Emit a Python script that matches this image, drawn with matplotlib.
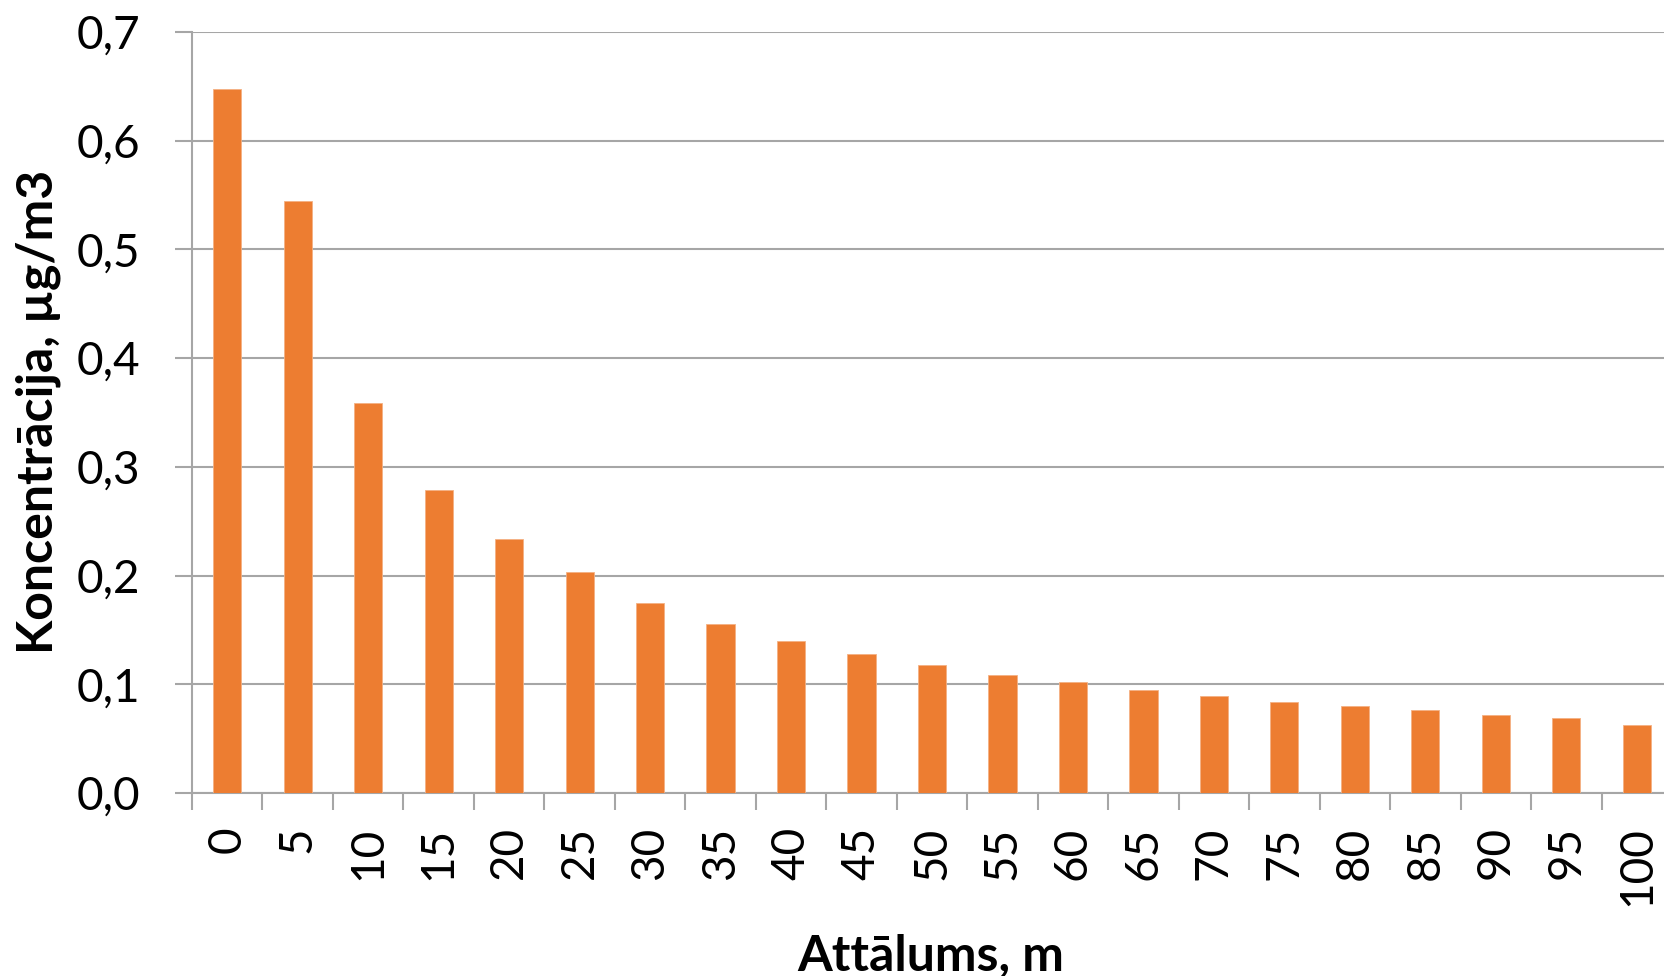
import numpy as np
import matplotlib
matplotlib.use("Agg")
import matplotlib.pyplot as plt
from matplotlib.ticker import FuncFormatter

# data
distances = ["0", "5", "10", "15", "20", "25", "30", "35", "40", "45", "50",
             "55", "60", "65", "70", "75", "80", "85", "90", "95", "100"]
concentration = [0.648, 0.545, 0.359, 0.279, 0.234, 0.203, 0.175, 0.155, 0.140,
                 0.128, 0.118, 0.109, 0.102, 0.095, 0.089, 0.084, 0.080, 0.076,
                 0.072, 0.069, 0.063]

plt.rcParams['font.family'] = ['Lato', 'DejaVu Sans']
grey = "#A6A6A6"

W, H = 1664, 976
fig = plt.figure(figsize=(W / 100, H / 100), dpi=100)
# axes in pixel terms: left 192, right 1672 (goes past the picture edge), top 32, bottom 793
left, right, top, bottom = 192, 1672, 32, 793
ax = fig.add_axes([left / W, (H - bottom) / H, (right - left) / W, (bottom - top) / H])

x = np.arange(len(distances))
ax.bar(x, concentration, width=0.4, color="#ED7D31", edgecolor="#F4B183", linewidth=0.6, zorder=3)

ax.set_xlim(-0.5, len(distances) - 0.5)
ax.set_ylim(0, 0.7)
ax.set_yticks(np.arange(0, 0.71, 0.1))
ax.yaxis.set_major_formatter(FuncFormatter(lambda v, p: f"{v:.1f}".replace(".", ",")))
ax.grid(axis="y", color=grey, linewidth=1.5, zorder=0)

# category labels in the middle, tick marks between the bars
ax.set_xticks(x)
ax.set_xticklabels(distances, rotation=90)
ax.set_xticks(np.arange(-0.5, len(distances)), minor=True)
ax.tick_params(axis="x", which="major", length=0, pad=24, labelsize=33)
ax.tick_params(axis="x", which="minor", length=12, width=1.5, color=grey)
ax.tick_params(axis="y", length=12, width=1.5, color=grey, pad=25, labelsize=33)

for s in ["top", "right"]:
    ax.spines[s].set_visible(False)
for s in ["left", "bottom"]:
    ax.spines[s].set_color(grey)
    ax.spines[s].set_linewidth(1.5)

fig.text(931 / W, 1 - 956 / H, "Attālums, m", ha="center", va="center",
         fontsize=36, fontweight="bold")
fig.text(38 / W, 1 - 412 / H, "Koncentrācija, µg/m3", ha="center", va="center",
         rotation=90, fontsize=36, fontweight="bold")

fig.savefig("out.png", dpi=100)
